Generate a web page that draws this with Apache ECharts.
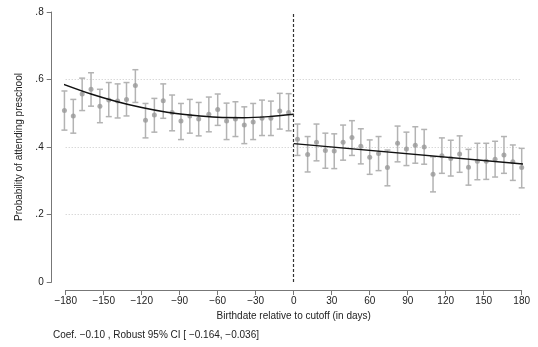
<!DOCTYPE html>
<html>
<head>
<meta charset="utf-8">
<script src="https://cdn.jsdelivr.net/npm/echarts@6/dist/echarts.min.js"></script>
<style>html,body{margin:0;padding:0;background:#fff}#c{width:538px;height:347px}</style>
</head>
<body>
<div id="c"></div>
<script>
// Binned means with robust 95% CI, left of cutoff
var leftX  = [-181,-174,-167,-160,-153,-146,-139,-132,-125,-117,-110,-103,-96,-89,-82,-75,-67,-60,-53,-46,-39,-32,-25,-18,-11,-4];
var leftY  = [.508,.492,.557,.571,.521,.539,.536,.541,.582,.479,.495,.537,.502,.477,.492,.483,.497,.511,.477,.483,.465,.474,.485,.485,.507,.502];
var leftLo = [.450,.441,.508,.521,.472,.490,.486,.492,.532,.427,.444,.485,.448,.422,.441,.433,.445,.464,.422,.431,.410,.422,.434,.434,.453,.448];
var leftHi = [.566,.541,.604,.620,.571,.591,.587,.591,.629,.529,.544,.587,.554,.529,.541,.532,.548,.557,.530,.534,.519,.529,.539,.536,.559,.558];
// right of cutoff
var rightX  = [3,11,18,25,32,39,46,53,60,67,74,82,89,96,103,110,117,124,131,138,145,152,159,166,173,180];
var rightY  = [.423,.378,.414,.390,.388,.414,.428,.402,.370,.381,.339,.411,.394,.405,.400,.319,.374,.366,.379,.340,.358,.358,.364,.376,.356,.339];
var rightLo = [.375,.326,.359,.337,.336,.361,.375,.350,.319,.330,.285,.356,.345,.352,.349,.267,.322,.314,.325,.287,.303,.304,.311,.322,.301,.279];
var rightHi = [.468,.431,.468,.441,.439,.465,.478,.454,.421,.431,.391,.462,.444,.460,.452,.371,.427,.420,.433,.393,.411,.411,.417,.431,.406,.396];
// fitted lines
var leftFitX  = [-184,-160,-140,-120,-100,-80,-60,-40,-20,0];
var leftFitY  = [.589,.557,.535,.517,.503,.494,.488,.487,.490,.497];
var rightFitX = [0,184];
var rightFitY = [.410,.349];
// axis ticks
var xTicks = {min:-180, max:180, interval:30};
var yTicks = {min:0, max:0.8, interval:0.2};
var noteText = 'Coef. \u22120.10 , Robust 95% CI [ \u22120.164, \u22120.036]';

var FONT = 'Liberation Sans, Arial, Helvetica, sans-serif';
function zip(a,b){return a.map(function(v,i){return [v,b[i]];});}
function zip3(a,b,c){return a.map(function(v,i){return [v,b[i],c[i]];});}
var ptsX = leftX.concat(rightX), ptsY = leftY.concat(rightY);
var ciData = zip3(ptsX, leftLo.concat(rightLo), leftHi.concat(rightHi));

function renderCI(params, api){
  var x = api.value(0), lo = api.value(1), hi = api.value(2);
  var pLo = api.coord([x, lo]), pHi = api.coord([x, hi]);
  var cap = 3;
  var st = {stroke:'#b3b3b3', lineWidth:1.5};
  return {type:'group', children:[
    {type:'line', shape:{x1:pLo[0],y1:pLo[1],x2:pHi[0],y2:pHi[1]}, style:st},
    {type:'line', shape:{x1:pLo[0]-cap,y1:pLo[1],x2:pLo[0]+cap,y2:pLo[1]}, style:st},
    {type:'line', shape:{x1:pHi[0]-cap,y1:pHi[1],x2:pHi[0]+cap,y2:pHi[1]}, style:st}
  ]};
}

var chart = echarts.init(document.getElementById('c'), null, {renderer:'canvas'});
chart.setOption({
  animation:false,
  textStyle:{fontFamily:FONT},
  grid:{left:65.7, right:16.3, top:12, bottom:65},
  xAxis:{
    type:'value', min:xTicks.min, max:xTicks.max, interval:xTicks.interval,
    offset:8,
    name:'Birthdate relative to cutoff (in days)', nameLocation:'middle', nameGap:21,
    nameTextStyle:{fontFamily:FONT, fontSize:10, color:'#222'},
    axisLine:{onZero:false, lineStyle:{color:'#777', width:1}},
    axisTick:{length:5, lineStyle:{color:'#777'}},
    axisLabel:{fontFamily:FONT, fontSize:10, color:'#222', margin:6,
      formatter:function(v){return String(v).replace('-','\u2212');}},
    splitLine:{show:false}
  },
  yAxis:{
    type:'value', min:yTicks.min, max:yTicks.max, interval:yTicks.interval,
    offset:14,
    name:'Probability of attending preschool', nameLocation:'middle', nameGap:26, nameRotate:90,
    nameTextStyle:{fontFamily:FONT, fontSize:10, color:'#222'},
    axisLine:{show:true, onZero:false, lineStyle:{color:'#777', width:1}},
    axisTick:{show:true, length:5, lineStyle:{color:'#777'}},
    axisLabel:{fontFamily:FONT, fontSize:10, color:'#222', margin:8,
      formatter:function(v){return v===0?'0':v.toFixed(1).replace(/^0/,'');}},
    splitLine:{show:true, showMinLine:false, showMaxLine:false, lineStyle:{color:'#c8c8c8', type:[1,2], width:1}}
  },
  graphic:[{type:'text', left:53, top:330, style:{text:noteText, font:'10px '+FONT, fill:'#222'}}],
  series:[
    {type:'custom', renderItem:renderCI, data:ciData, clip:false, silent:true, z:2,
     encode:{x:0, y:[1,2]}},
    {type:'scatter', data:zip(ptsX, ptsY), symbol:'circle', symbolSize:5, clip:false, silent:true, z:3,
     itemStyle:{color:'#999999'}},
    {type:'line', data:zip(leftFitX, leftFitY), smooth:0.3, showSymbol:false, clip:false, silent:true, z:4,
     lineStyle:{color:'#111', width:1.5},
     markLine:{silent:true, symbol:['none','none'], label:{show:false},
       lineStyle:{color:'#333', type:[3,2], width:1.2}, data:[{xAxis:0}]}},
    {type:'line', data:zip(rightFitX, rightFitY), showSymbol:false, clip:false, silent:true, z:4,
     lineStyle:{color:'#111', width:1.5}}
  ]
});
</script>
</body>
</html>
